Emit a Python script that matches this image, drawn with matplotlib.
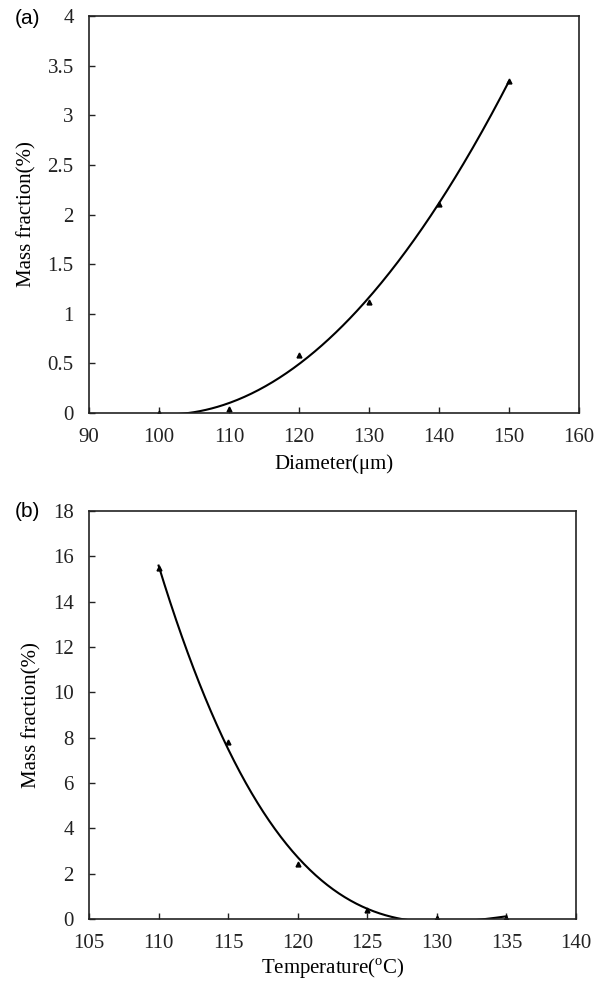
import numpy as np
import matplotlib
matplotlib.use("Agg")
import matplotlib.pyplot as plt

plt.rcParams['font.family'] = ['Liberation Serif', 'DejaVu Serif']
plt.rcParams['mathtext.fontset'] = 'custom'
plt.rcParams['mathtext.rm'] = 'Liberation Serif'

# (a) mass fraction vs particle diameter
diameter = [100, 110, 120, 130, 140, 150]
mass_a = [0.0, 0.04, 0.58, 1.12, 2.11, 3.35]

# (b) mass fraction vs temperature
temperature = [110, 115, 120, 125, 130, 135]
mass_b = [15.5, 7.8, 2.45, 0.4, 0.05, 0.05]

fig = plt.figure(figsize=(5.99, 9.84), dpi=100)
ax_a = fig.add_axes([0.1486, 0.5803, 0.818, 0.4034])
ax_b = fig.add_axes([0.1486, 0.066, 0.813, 0.4147])

FS = 15


def style(ax):
    for s in ax.spines.values():
        s.set_linewidth(1.2)
        s.set_color('#222222')
    ax.tick_params(direction='in', length=4, width=1.0, labelsize=FS,
                   top=False, right=False, colors='#222222')
    ax.tick_params(axis='x', pad=11)
    ax.tick_params(axis='y', pad=11)


# panel (a) - quadratic trendline
ax_a.plot(diameter, mass_a, '^', color='black', markersize=3.5)
coef = np.polyfit(diameter, mass_a, 2)
xs = np.linspace(100, 150, 300)
ax_a.plot(xs, np.polyval(coef, xs), color='black', lw=1.5)
ax_a.set_xlim(90, 160)
ax_a.set_ylim(0, 4)
ax_a.set_xticks(np.arange(90, 161, 10))
ax_a.set_yticks(np.arange(0, 4.01, 0.5))
ax_a.set_yticklabels(['0', '0.5', '1', '1.5', '2', '2.5', '3', '3.5', '4'])
ax_a.set_xlabel('Diameter(μm)', fontsize=FS, labelpad=5)
ax_a.set_ylabel('Mass fraction(%)', fontsize=FS, labelpad=8)
style(ax_a)
fig.text(0.025, 0.981, '(a)', fontsize=FS, family='Liberation Sans', va='center')

# panel (b) - cubic trendline
ax_b.plot(temperature, mass_b, '^', color='black', markersize=3.5)
coef_b = np.polyfit(temperature, mass_b, 3)
ts = np.linspace(110, 135, 300)
ax_b.plot(ts, np.polyval(coef_b, ts), color='black', lw=1.5)
ax_b.set_xlim(105, 140)
ax_b.set_ylim(0, 18)
ax_b.set_xticks(np.arange(105, 141, 5))
ax_b.set_yticks(np.arange(0, 19, 2))
ax_b.set_xlabel('Temperature($^{\\rm o}$C)', fontsize=FS, labelpad=2)
ax_b.set_ylabel('Mass fraction(%)', fontsize=FS, labelpad=8)
style(ax_b)
fig.text(0.025, 0.480, '(b)', fontsize=FS, family='Liberation Sans', va='center')

fig.savefig('out.png', dpi=100)
